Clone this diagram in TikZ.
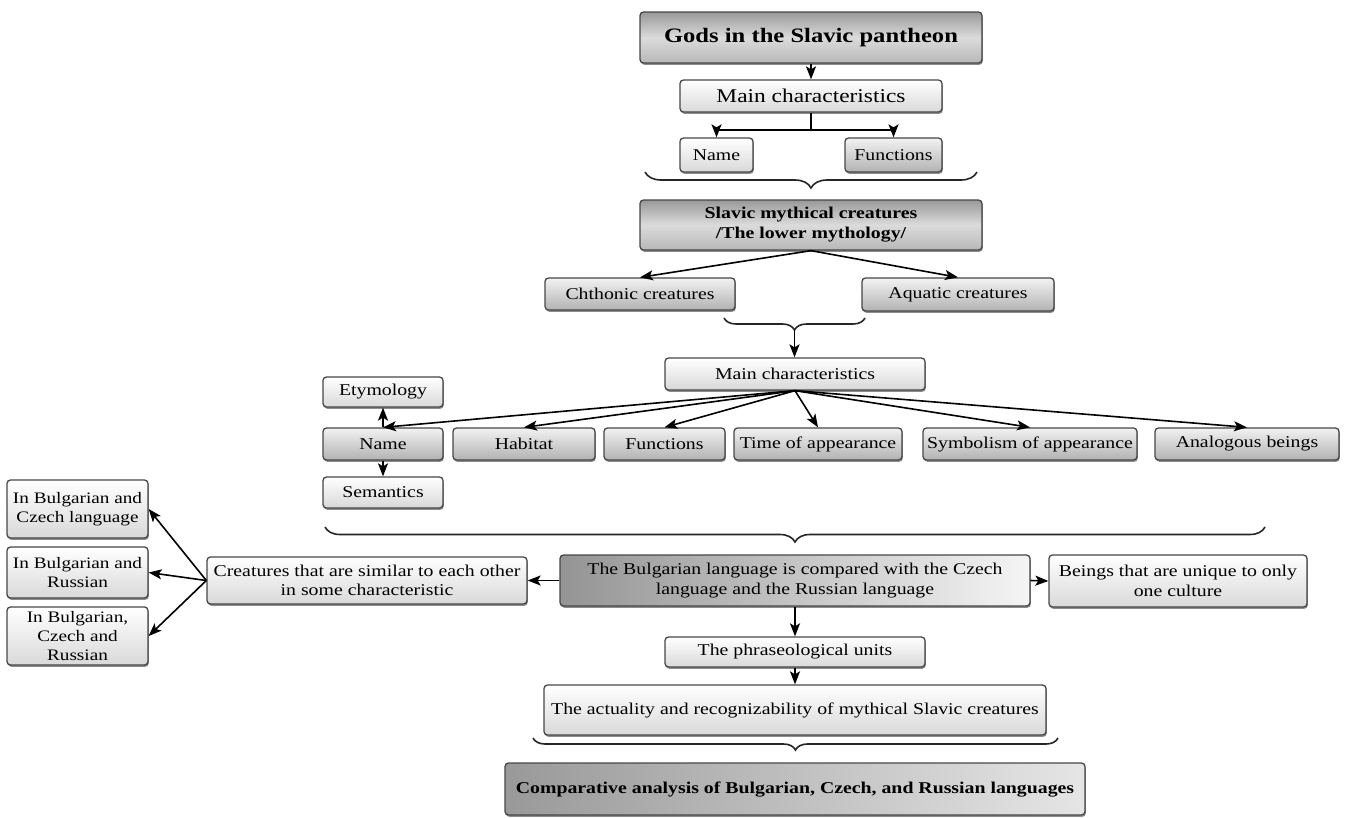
\documentclass[tikz,border=0pt]{standalone}
\usepackage{fontspec}
\setmainfont{Liberation Serif}[FakeStretch=1.2]
\usetikzlibrary{arrows.meta,shadows,decorations.pathreplacing}
\newcommand\fsz[2]{\fontsize{#1}{#2}\selectfont}
\tikzset{
 base/.style={draw=black!72, line width=1.3pt, rounded corners=3.5pt, align=center, inner sep=1pt,
   font=\fsz{16.5}{19.5}, drop shadow={shadow xshift=0.8pt, shadow yshift=-1.8pt, opacity=0.45, fill=black}},
 lbox/.style={base, top color=white, bottom color=black!15},
 gbox/.style={base, top color=black!5, bottom color=black!30},
 dbox/.style={base, top color=black!40, bottom color=black!28, middle color=black!14},
 hbox/.style={base, left color=black!42, right color=black!4},
 arr/.style={-{Stealth[length=13pt,width=10pt,inset=3pt]}, line width=1.6pt, black},
 brc/.style={decorate, decoration={brace, mirror, amplitude=#1}, line width=1.6pt, black!85},
}
\begin{document}
\begin{tikzpicture}[x=1pt,y=-1pt]
\fill[white] (0,0) rectangle (1352,817);
\useasboundingbox (0,0) rectangle (1352,817);

% top part
\node[dbox, minimum width=342pt, minimum height=51pt, font=\fsz{20.5}{24}\bfseries] (gods) at (811,37.5) {Gods in the Slavic pantheon};
\node[lbox, minimum width=262pt, minimum height=32pt, font=\fsz{19.5}{22}] (mc1) at (811,96) {Main characteristics};
\node[lbox, minimum width=73pt, minimum height=34pt] (name1) at (716.5,155) {Name};
\node[gbox, minimum width=97pt, minimum height=34pt] (func1) at (893.5,155) {Functions};
\node[dbox, minimum width=342pt, minimum height=50pt, font=\fsz{16.5}{20}\bfseries] (slavic) at (811,225) {Slavic mythical creatures\\/The lower mythology/};

\draw[arr] (gods) -- (mc1);
\coordinate (j1) at (811,130);
\draw[line width=1.6pt] (mc1.south) -- (j1);
\draw[arr] (j1) -| (name1);
\draw[arr] (j1) -| (func1);
\coordinate (b1l) at (645,172);
\coordinate (b1r) at (977,172);
\draw[brc=16pt] (b1l) -- (b1r);

% creatures
\node[gbox, minimum width=190pt, minimum height=32pt] (chth) at (640,294) {Chthonic creatures};
\node[gbox, minimum width=192pt, minimum height=33pt] (aqua) at (958,294.5) {Aquatic creatures};
\draw[arr] (slavic.south) -- (chth.north);
\draw[arr] (slavic.south) -- (aqua.north);
\coordinate (b2l) at (724,318);
\coordinate (b2r) at (865,318);
\draw[brc=12pt] (b2l) -- (b2r);
\coordinate (b2t) at (794.5,330);

\node[lbox, minimum width=260pt, minimum height=32pt] (mc2) at (795,374) {Main characteristics};
\draw[arr] (b2t) -- (b2t |- mc2.north);

% row
\node[lbox, minimum width=120pt, minimum height=30pt] (ety) at (383,392) {Etymology};
\node[gbox, minimum width=120pt, minimum height=32pt] (name2) at (383,444) {Name};
\node[gbox, minimum width=142pt, minimum height=32pt] (hab) at (524,444) {Habitat};
\node[gbox, minimum width=121pt, minimum height=32pt] (fun2) at (664.5,444) {Functions};
\node[gbox, minimum width=168pt, minimum height=32pt] (time) at (818,444) {Time of appearance};
\node[gbox, minimum width=214pt, minimum height=32pt] (sym) at (1030,444) {Symbolism of appearance};
\node[gbox, minimum width=184pt, minimum height=32pt] (ana) at (1247,444) {Analogous beings};
\node[lbox, minimum width=120pt, minimum height=31pt] (sem) at (383,492.5) {Semantics};

\foreach \t in {name2,hab,fun2,time,sym,ana}{\draw[arr] (mc2.south) -- (\t.north);}
\draw[arr] (name2.north) -- (ety.south);
\draw[arr] (name2.south) -- (sem.north);

\coordinate (b3l) at (325,527);
\coordinate (b3r) at (1265,527);
\draw[brc=15pt] (b3l) -- (b3r);

% comparison row
\node[lbox, minimum width=320pt, minimum height=47pt] (cre) at (367,580.5) {Creatures that are similar to each other\\in some characteristic};
\node[hbox, minimum width=470pt, minimum height=51pt] (bul) at (795,580.5) {The Bulgarian language is compared with the Czech\\language and the Russian language};
\node[lbox, minimum width=258pt, minimum height=52pt] (bei) at (1178,581) {Beings that are unique to only\\one culture};
\node[lbox, minimum width=141pt, minimum height=58pt, font=\fsz{16}{19}] (bc) at (77.5,509) {In Bulgarian and\\Czech language};
\node[lbox, minimum width=141pt, minimum height=51pt, font=\fsz{16}{19}] (br) at (77.5,572.5) {In Bulgarian and\\Russian};
\node[lbox, minimum width=141pt, minimum height=58pt, font=\fsz{16}{19}] (bcr) at (77.5,636) {In Bulgarian,\\Czech and\\Russian};

\draw[arr] (bul.west) -- (cre.east);
\draw[arr] (bul.east) -- (bei.west);
\draw[arr] (cre.west) -- (bc.east);
\draw[arr] (cre.west) -- (br.east);
\draw[arr] (cre.west) -- (bcr.east);

% bottom
\node[lbox, minimum width=260pt, minimum height=30pt] (phr) at (795,652) {The phraseological units};
\node[lbox, minimum width=502pt, minimum height=50pt] (act) at (795,710) {The actuality and recognizability of mythical Slavic creatures};
\node[hbox, left color=black!40, right color=black!10, minimum width=580pt, minimum height=52pt, font=\fsz{16.5}{19.5}\bfseries] (comp) at (795,789) {Comparative analysis of Bulgarian, Czech, and Russian languages};
\draw[arr] (bul) -- (phr);
\draw[arr] (phr) -- (act);
\coordinate (b4l) at (533,738);
\coordinate (b4r) at (1058,738);
\draw[brc=12pt] (b4l) -- (b4r);
\end{tikzpicture}
\end{document}
